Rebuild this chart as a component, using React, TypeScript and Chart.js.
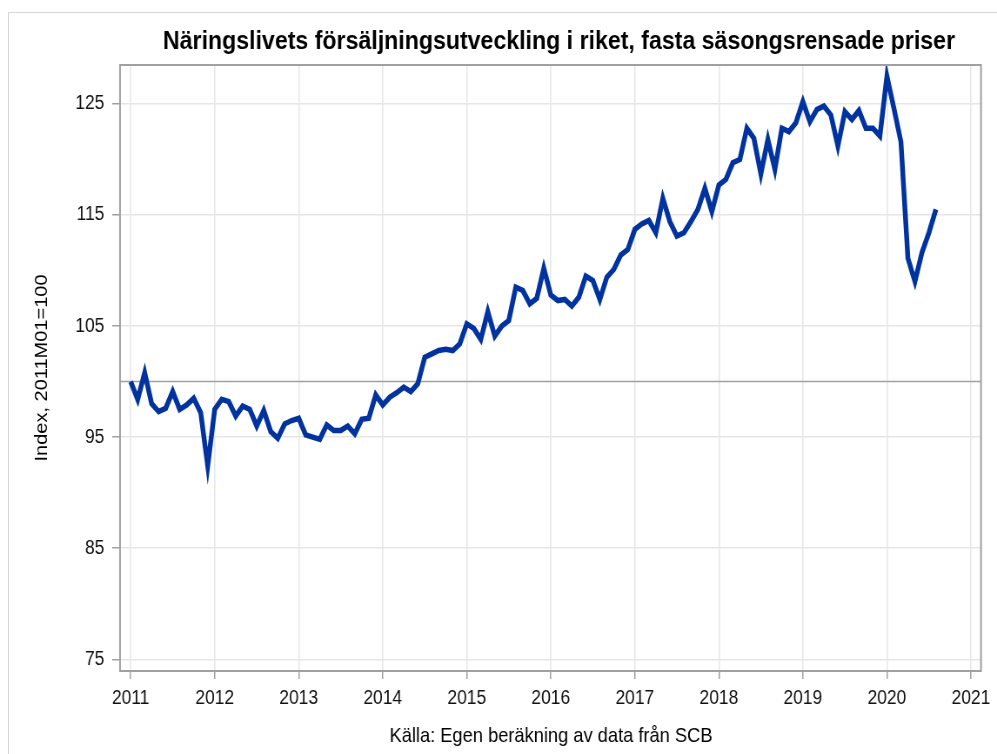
import React, { useEffect, useRef } from "react";
import { Chart, registerables } from "chart.js";

Chart.register(...registerables);

const TITLE = "Näringslivets försäljningsutveckling i riket, fasta säsongsrensade priser";
const Y_TITLE = "Index, 2011M01=100";
const CAPTION = "Källa: Egen beräkning av data från SCB";

const START_YEAR = 2011;
const v2011 = [100, 98.4, 100.8, 98.0, 97.3, 97.6, 99.1, 97.5, 97.9, 98.5, 97.2, 92.4];
const v2012 = [97.5, 98.4, 98.2, 96.9, 97.8, 97.5, 96.0, 97.4, 95.5, 94.9, 96.2, 96.5];
const v2013 = [96.7, 95.2, 95.0, 94.8, 96.1, 95.6, 95.6, 96.0, 95.3, 96.6, 96.7, 98.8];
const v2014 = [97.9, 98.6, 99.0, 99.5, 99.1, 99.8, 102.2, 102.5, 102.8, 102.9, 102.8, 103.4];
const v2015 = [105.2, 104.8, 103.8, 106.3, 104.1, 105.0, 105.5, 108.5, 108.2, 107.0, 107.5, 110.2];
const v2016 = [107.8, 107.3, 107.4, 106.8, 107.6, 109.5, 109.1, 107.4, 109.4, 110.1, 111.4, 111.9];
const v2017 = [113.7, 114.2, 114.5, 113.4, 116.5, 114.4, 113.1, 113.4, 114.4, 115.5, 117.4, 115.3];
const v2018 = [117.7, 118.2, 119.7, 120.0, 122.8, 121.9, 118.7, 121.8, 119.1, 122.8, 122.5, 123.3];
const v2019 = [125.2, 123.4, 124.5, 124.8, 124.0, 121.2, 124.3, 123.6, 124.4, 122.8, 122.8, 122.1];
const v2020 = [127.5, 124.6, 121.6, 111.1, 109.0, 111.6, 113.4, 115.5];

const yearlyValues = [v2011, v2012, v2013, v2014, v2015, v2016, v2017, v2018, v2019, v2020];
const xTicks = [2011, 2012, 2013, 2014, 2015, 2016, 2017, 2018, 2019, 2020, 2021];
const yTicks = [75, 85, 95, 105, 115, 125];
const REF_VALUE = 100;

const FONT = "'Liberation Sans', Arial, sans-serif";
// The reference text is horizontally condensed: render on a wider canvas and squeeze it with CSS.
const VIEW_W = 997;
const VIEW_H = 754;
const SQUEEZE = 0.87;
const CANVAS_W = Math.round(VIEW_W / SQUEEZE);
const sx = (screenX: number) => (screenX * CANVAS_W) / VIEW_W;

export default function App() {
  const ref = useRef<HTMLCanvasElement | null>(null);

  useEffect(() => {
    const canvas = ref.current;
    if (!canvas) return;
    const points: { x: number; y: number }[] = [];
    yearlyValues.forEach((arr, yi) => {
      arr.forEach((v, mi) => points.push({ x: START_YEAR + yi + mi / 12, y: v }));
    });

    const decor = {
      id: "decor",
      beforeDatasetsDraw(chart: any) {
        const { ctx, chartArea, scales } = chart;
        const y = scales.y.getPixelForValue(REF_VALUE);
        ctx.save();
        ctx.strokeStyle = "#a0a0a0";
        ctx.lineWidth = 1.5;
        ctx.beginPath();
        ctx.moveTo(chartArea.left, y);
        ctx.lineTo(chartArea.right, y);
        ctx.stroke();
        ctx.restore();
      },
      afterDraw(chart: any) {
        const { ctx, chartArea } = chart;
        ctx.save();
        ctx.strokeStyle = "#a0a0a0";
        ctx.lineWidth = 2;
        ctx.strokeRect(chartArea.left, chartArea.top, chartArea.right - chartArea.left, chartArea.bottom - chartArea.top);
        ctx.fillStyle = "#000";
        ctx.textAlign = "center";
        ctx.textBaseline = "middle";
        ctx.font = `bold 26.6px ${FONT}`;
        ctx.fillText(TITLE, sx(559), 42);
        ctx.font = `21px ${FONT}`;
        ctx.fillText(CAPTION, sx(551), 736);
        ctx.font = `20px ${FONT}`;
        ctx.translate(sx(42), (chartArea.top + chartArea.bottom) / 2);
        ctx.rotate(-Math.PI / 2);
        ctx.fillText(Y_TITLE, 0, 0);
        ctx.restore();
      },
    };

    const chart = new Chart(canvas, {
      type: "line",
      data: {
        datasets: [
          {
            data: points,
            borderColor: "#0033A0",
            borderWidth: 5.5,
            pointRadius: 0,
            tension: 0,
            borderJoinStyle: "miter",
            fill: false,
          },
        ],
      },
      options: {
        responsive: false,
        animation: false,
        devicePixelRatio: 1,
        layout: { padding: { left: 0, right: CANVAS_W - sx(981), top: 65, bottom: 0 } },
        plugins: { legend: { display: false }, tooltip: { enabled: false }, title: { display: false } },
        scales: {
          x: {
            type: "linear",
            min: 2010.873,
            max: 2021.12,
            afterBuildTicks: (scale: any) => {
              scale.ticks = xTicks.map((v) => ({ value: v }));
            },
            afterFit: (scale: any) => {
              scale.height = 83;
            },
            grid: { color: "#e6e6e6", lineWidth: 1.5, tickLength: 8, tickColor: "#a0a0a0", drawTicks: true },
            border: { display: false },
            ticks: {
              color: "#111",
              font: { family: FONT, size: 20 },
              padding: 7,
              maxRotation: 0,
              autoSkip: false,
              callback: (v: any) => String(v),
            },
          },
          y: {
            type: "linear",
            min: 73.95,
            max: 128.5,
            afterBuildTicks: (scale: any) => {
              scale.ticks = yTicks.map((v) => ({ value: v }));
            },
            afterFit: (scale: any) => {
              scale.width = sx(120);
            },
            grid: { color: "#e6e6e6", lineWidth: 1.5, tickLength: 9, tickColor: "#a0a0a0", drawTicks: true },
            border: { display: false },
            ticks: {
              color: "#111",
              font: { family: FONT, size: 20 },
              padding: 9,
              autoSkip: false,
              callback: (v: any) => String(v),
            },
          },
        },
      },
      plugins: [decor],
    } as any);
    return () => chart.destroy();
  }, []);

  return (
    <div style={{ position: "fixed", left: 0, top: 0, width: VIEW_W, height: VIEW_H, overflow: "hidden", background: "#fff" }}>
      <div
        style={{
          position: "absolute",
          left: 8,
          top: 12,
          width: 1100,
          height: 900,
          border: "1px solid #d6d6d6",
        }}
      />
      <canvas
        ref={ref}
        width={CANVAS_W}
        height={VIEW_H}
        style={{ position: "absolute", left: 0, top: 0, width: VIEW_W, height: VIEW_H }}
      />
    </div>
  );
}
